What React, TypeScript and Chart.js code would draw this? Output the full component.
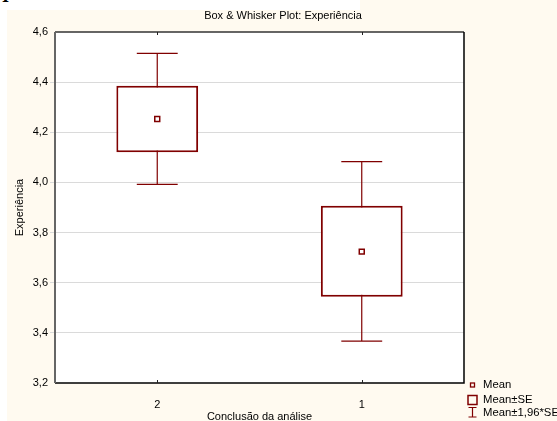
import React, { useEffect, useRef } from 'react';
import { Chart, registerables } from 'chart.js';

Chart.register(...registerables);

const categories = ['2', '1'];
const means = [4.253, 3.724];
const seLow = [4.12, 3.544];
const seHigh = [4.386, 3.907];
const ciLow = [3.992, 3.367];
const ciHigh = [4.515, 4.083];
const yMin = 3.2;
const yMax = 4.6;
const yStep = 0.2;
const titleText = 'Box & Whisker Plot: Experiência';
const xTitle = 'Conclusão da análise';
const yTitle = 'Experiência';
const legendLabels = ['Mean', 'Mean±SE', 'Mean±1,96*SE'];

const RED = '#800000';
const FONT = "'Liberation Sans', Arial, sans-serif";

const extrasPlugin = {
  id: 'boxExtras',
  beforeDraw(chart: any) {
    const { ctx, chartArea: a } = chart;
    ctx.save();
    ctx.fillStyle = '#ffffff';
    ctx.fillRect(a.left, a.top, a.right - a.left, a.bottom - a.top);
    ctx.restore();
  },
  beforeDatasetsDraw(chart: any) {
    const xs = chart.scales.x;
    const ys = chart.scales.y;
    const ctx = chart.ctx;
    const catW = (xs.right - xs.left) / categories.length;
    const cap = catW * 0.1;
    ctx.save();
    ctx.strokeStyle = RED;
    ctx.lineWidth = 1.2;
    categories.forEach((_, i) => {
      const px = xs.getPixelForValue(i);
      const yt = ys.getPixelForValue(ciHigh[i]);
      const yb = ys.getPixelForValue(ciLow[i]);
      ctx.beginPath();
      ctx.moveTo(px, yt);
      ctx.lineTo(px, yb);
      ctx.moveTo(px - cap, yt);
      ctx.lineTo(px + cap, yt);
      ctx.moveTo(px - cap, yb);
      ctx.lineTo(px + cap, yb);
      ctx.stroke();
    });
    ctx.restore();
  },
  afterDraw(chart: any) {
    const { ctx, chartArea: a } = chart;
    const xs = chart.scales.x;
    ctx.save();
    // title
    ctx.fillStyle = '#000';
    ctx.font = `11px ${FONT}`;
    ctx.textAlign = 'center';
    ctx.textBaseline = 'middle';
    ctx.fillText(titleText, 283, 16);
    // frame
    ctx.lineWidth = 1.5;
    ctx.strokeStyle = '#333';
    ctx.beginPath();
    ctx.moveTo(a.left, a.top);
    ctx.lineTo(a.right, a.top);
    ctx.stroke();
    ctx.strokeStyle = '#000';
    ctx.beginPath();
    ctx.moveTo(a.right, a.top);
    ctx.lineTo(a.right, a.bottom);
    ctx.lineTo(a.left, a.bottom);
    ctx.stroke();
    ctx.strokeStyle = '#666';
    ctx.lineWidth = 2;
    ctx.beginPath();
    ctx.moveTo(a.left, a.top);
    ctx.lineTo(a.left, a.bottom);
    ctx.stroke();
    // inner category ticks top & bottom
    ctx.strokeStyle = '#222';
    ctx.lineWidth = 1;
    categories.forEach((_, i) => {
      const px = Math.round(xs.getPixelForValue(i)) + 0.5;
      ctx.beginPath();
      ctx.moveTo(px, a.top);
      ctx.lineTo(px, a.top + 3);
      ctx.moveTo(px, a.bottom);
      ctx.lineTo(px, a.bottom - 3);
      ctx.stroke();
    });
    // legend
    const lx = 472.5;
    const tx = 483;
    const rows = [385, 400, 413];
    ctx.strokeStyle = RED;
    ctx.lineWidth = 1.3;
    ctx.strokeRect(lx - 2, rows[0] - 2, 4, 4);
    ctx.lineWidth = 1.5;
    ctx.strokeRect(lx - 4.5, rows[1] - 4.5, 9, 9);
    ctx.lineWidth = 1.2;
    ctx.beginPath();
    ctx.moveTo(lx, rows[2] - 5.5);
    ctx.lineTo(lx, rows[2] + 4);
    ctx.moveTo(lx - 4, rows[2] - 5.5);
    ctx.lineTo(lx + 4, rows[2] - 5.5);
    ctx.moveTo(lx - 4, rows[2] + 4);
    ctx.lineTo(lx + 4, rows[2] + 4);
    ctx.stroke();
    ctx.fillStyle = '#000';
    ctx.font = `11.3px ${FONT}`;
    ctx.textBaseline = 'middle';
    ctx.textAlign = 'left';
    legendLabels.forEach((t, i) => ctx.fillText(t, tx, rows[i]));
    ctx.restore();
  },
};

export default function App() {
  const ref = useRef<HTMLCanvasElement>(null);
  useEffect(() => {
    if (!ref.current) return;
    const chart = new Chart(ref.current, {
      type: 'bar',
      data: {
        labels: categories,
        datasets: [
          {
            type: 'line',
            data: means,
            showLine: false,
            pointStyle: 'rect',
            pointRadius: 3.5,
            pointBorderWidth: 1.5,
            pointBorderColor: RED,
            pointBackgroundColor: '#fff',
            order: 0,
          } as any,
          {
            type: 'bar',
            data: categories.map((_, i) => [seLow[i], seHigh[i]]),
            backgroundColor: '#fff',
            borderColor: RED,
            borderWidth: 2,
            borderSkipped: false,
            categoryPercentage: 1,
            barPercentage: 0.4,
            order: 1,
          } as any,
        ],
      },
      options: {
        animation: false,
        responsive: false,
        devicePixelRatio: 1,
        layout: { padding: { left: 0, right: 93, top: 32, bottom: 0 } },
        plugins: {
          legend: { display: false },
          tooltip: { enabled: false },
          title: { display: false },
        },
        scales: {
          x: {
            type: 'category',
            offset: true,
            grid: { display: false },
            border: { display: false },
            ticks: { color: '#000', font: { family: FONT, size: 11 }, padding: 7.4 },
            title: {
              display: true,
              text: xTitle,
              color: '#000',
              font: { family: FONT, size: 11 },
              padding: { top: 0, bottom: 6.4 },
            },
            afterFit: (s: any) => {
              s.height = 47;
            },
          },
          y: {
            min: yMin,
            max: yMax,
            border: { display: false },
            grid: {
              color: (c: any) =>
                c.tick && (Math.abs(c.tick.value - yMin) < 1e-6 || Math.abs(c.tick.value - yMax) < 1e-6)
                  ? 'rgba(0,0,0,0)'
                  : '#dadada',
              tickLength: 5,
              drawTicks: true,
            },
            ticks: {
              stepSize: yStep,
              color: '#000',
              padding: 2,
              font: { family: FONT, size: 11 },
              callback: (v: any) => Number(v).toFixed(1).replace('.', ','),
            },
            title: {
              display: true,
              text: yTitle,
              color: '#000',
              font: { family: FONT, size: 11 },
              padding: { top: 12.9, bottom: 0 },
            },
            afterFit: (s: any) => {
              s.width = 55;
            },
          },
        },
      } as any,
      plugins: [extrasPlugin],
    });
    return () => chart.destroy();
  }, []);

  return (
    <div
      style={{
        position: 'fixed',
        left: 0,
        top: 0,
        width: 557,
        height: 421,
        overflow: 'hidden',
        background: '#ffffff',
      }}
    >
      <div
        style={{
          position: 'absolute',
          left: 7,
          top: 10,
          right: 0,
          bottom: 0,
          background: '#fffaf0',
        }}
      />
      <div
        style={{
          position: 'absolute',
          left: 360,
          top: 0,
          right: 0,
          height: 10,
          background: '#fffaf0',
        }}
      />
      <div
        style={{
          position: 'absolute',
          left: 2,
          top: -13,
          fontFamily: "'Liberation Serif', serif",
          fontWeight: 'bold',
          fontSize: 18,
          lineHeight: '18px',
          color: '#000',
        }}
      >
        I
      </div>
      <canvas
        ref={ref}
        width={557}
        height={430}
        style={{ position: 'absolute', left: 0, top: 0, width: 557, height: 430 }}
      />
    </div>
  );
}
